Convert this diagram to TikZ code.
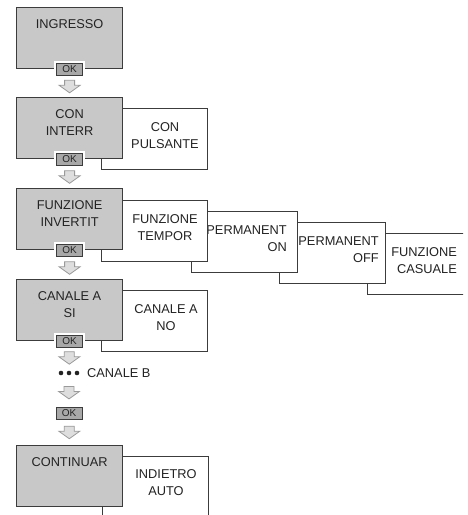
\documentclass[tikz,border=0pt]{standalone}
\usepackage{fontspec}
\setmainfont{Liberation Sans}
\usetikzlibrary{calc}
\definecolor{mnink}{HTML}{232323}
\definecolor{mnline}{HTML}{3C3C3C}
\definecolor{mngray}{HTML}{C8C8C8}
\definecolor{mnokfill}{HTML}{A8A8A8}
\definecolor{mnarrowfill}{HTML}{DEDEDE}
\definecolor{mnarrowline}{HTML}{9A9A9A}
\tikzset{
  mnmenu/.style={
    draw=mnline, fill=mngray, line width=1.2pt, minimum width=106pt,
    minimum height=61pt, inner sep=0pt, anchor=north west},
  mnoption/.style={
    draw=mnline, fill=white, line width=0.9pt, minimum width=106pt,
    minimum height=61pt, inner sep=0pt, anchor=north west},
  mntext/.style={
    font=\fontsize{12.8}{16.5}\selectfont, text=mnink, inner sep=0pt,
    align=center},
  mnok/.style={
    draw=mnline, fill=mnokfill, line width=0.8pt, minimum width=26pt,
    minimum height=12pt, inner sep=0pt, text=mnink,
    font=\fontsize{10}{10}\selectfont,
    preaction={draw=white, line width=5pt}},
  mnarrow/.style={draw=mnarrowline, fill=mnarrowfill, line width=0.8pt},
}
% hollow down arrow half way between two nodes
\newcommand{\mnblockarrow}[2]{%
  \coordinate (mnmid) at ($(#1.south)!0.5!(#2.north)$);
  \draw[mnarrow] (mnmid) ++(-5,-6) -- ++(10,0) -- ++(0,5) -- ++(5.5,0)
    -- ++(-10.5,7.5) -- ++(-10.5,-7.5) -- ++(5.5,0) -- cycle;}

\begin{document}
\begin{tikzpicture}[x=1pt, y=-1pt]
\useasboundingbox (0,0) rectangle (468,515);
\begin{scope}
\clip (0,0) rectangle (463,514);

% INGRESSO
\node[mnmenu] (ingresso) at (16,7) {};
\node[mntext, anchor=north] (ingressotext)
  at ([yshift=-12.5pt]ingresso.north) {INGRESSO};
\node[mnok] (okingresso) at (ingresso.south) {OK};

% CON INTERR, CON PULSANTE
\node[mnoption] (pulsante) at (101,108) {};
\node[mntext, anchor=north] (pulsantetext)
  at ([xshift=64pt, yshift=-14.5pt]pulsante.north west) {CON\\PULSANTE};
\node[mnmenu] (interr) at (16,97) {};
\node[mntext, anchor=north] (interrtext)
  at ([yshift=-12.5pt]interr.north) {CON\\INTERR};
\node[mnok] (okinterr) at (interr.south) {OK};

% FUNZIONE INVERTIT and the other functions
\node[mnoption] (casuale) at (367,233) {};
\node[mntext, anchor=north east, align=right] (casualetext)
  at ([xshift=90pt, yshift=-14.5pt]casuale.north west) {FUNZIONE\\CASUALE};
\node[mnoption] (permoff) at (279,222) {};
\node[mntext, anchor=north east, align=right] (permofftext)
  at ([xshift=100pt, yshift=-14.5pt]permoff.north west) {PERMANENT\\OFF};
\node[mnoption] (permon) at (191,211) {};
\node[mntext, anchor=north east, align=right] (permontext)
  at ([xshift=96pt, yshift=-14.5pt]permon.north west) {PERMANENT\\ON};
\node[mnoption] (tempor) at (101,200) {};
\node[mntext, anchor=north] (temportext)
  at ([xshift=64pt, yshift=-14.5pt]tempor.north west) {FUNZIONE\\TEMPOR};
\node[mnmenu] (invertit) at (16,188) {};
\node[mntext, anchor=north] (invertittext)
  at ([yshift=-12.5pt]invertit.north) {FUNZIONE\\INVERTIT};
\node[mnok] (okinvertit) at (invertit.south) {OK};

% CANALE A
\node[mnoption] (canaleno) at (101,290) {};
\node[mntext, anchor=north] (canalenotext)
  at ([xshift=65pt, yshift=-14.5pt]canaleno.north west) {CANALE A\\NO};
\node[mnmenu] (canalesi) at (16,279) {};
\node[mntext, anchor=north] (canalesitext)
  at ([yshift=-12.5pt]canalesi.north) {CANALE A\\SI};
\node[mnok] (okcanalesi) at (canalesi.south) {OK};

% CANALE B
\node[minimum width=22pt, minimum height=10pt, inner sep=0pt] (dots)
  at (69,373) {};
\foreach \dx in {-8,0,8}
  \fill[mnink] ([xshift=\dx pt]dots.center) circle (2.3pt);
\node[mntext, anchor=west] (canaleb) at (87,373) {CANALE B};
\node[mnok] (okcanaleb) at (69,413) {OK};

% CONTINUAR
\node[mnoption] (indietro) at (102,456) {};
\node[mntext, anchor=north] (indietrotext)
  at ([xshift=64pt, yshift=-13.5pt]indietro.north west) {INDIETRO\\AUTO};
\node[mnmenu] (continuar) at (16,445) {};
\node[mntext, anchor=north] (continuartext)
  at ([yshift=-12.5pt]continuar.north) {CONTINUAR};

% hollow arrows
\foreach \from/\to in {okingresso/interr, okinterr/invertit,
    okinvertit/canalesi, okcanalesi/dots, dots/okcanaleb,
    okcanaleb/continuar}
  \mnblockarrow{\from}{\to};

\end{scope}
\end{tikzpicture}
\end{document}
